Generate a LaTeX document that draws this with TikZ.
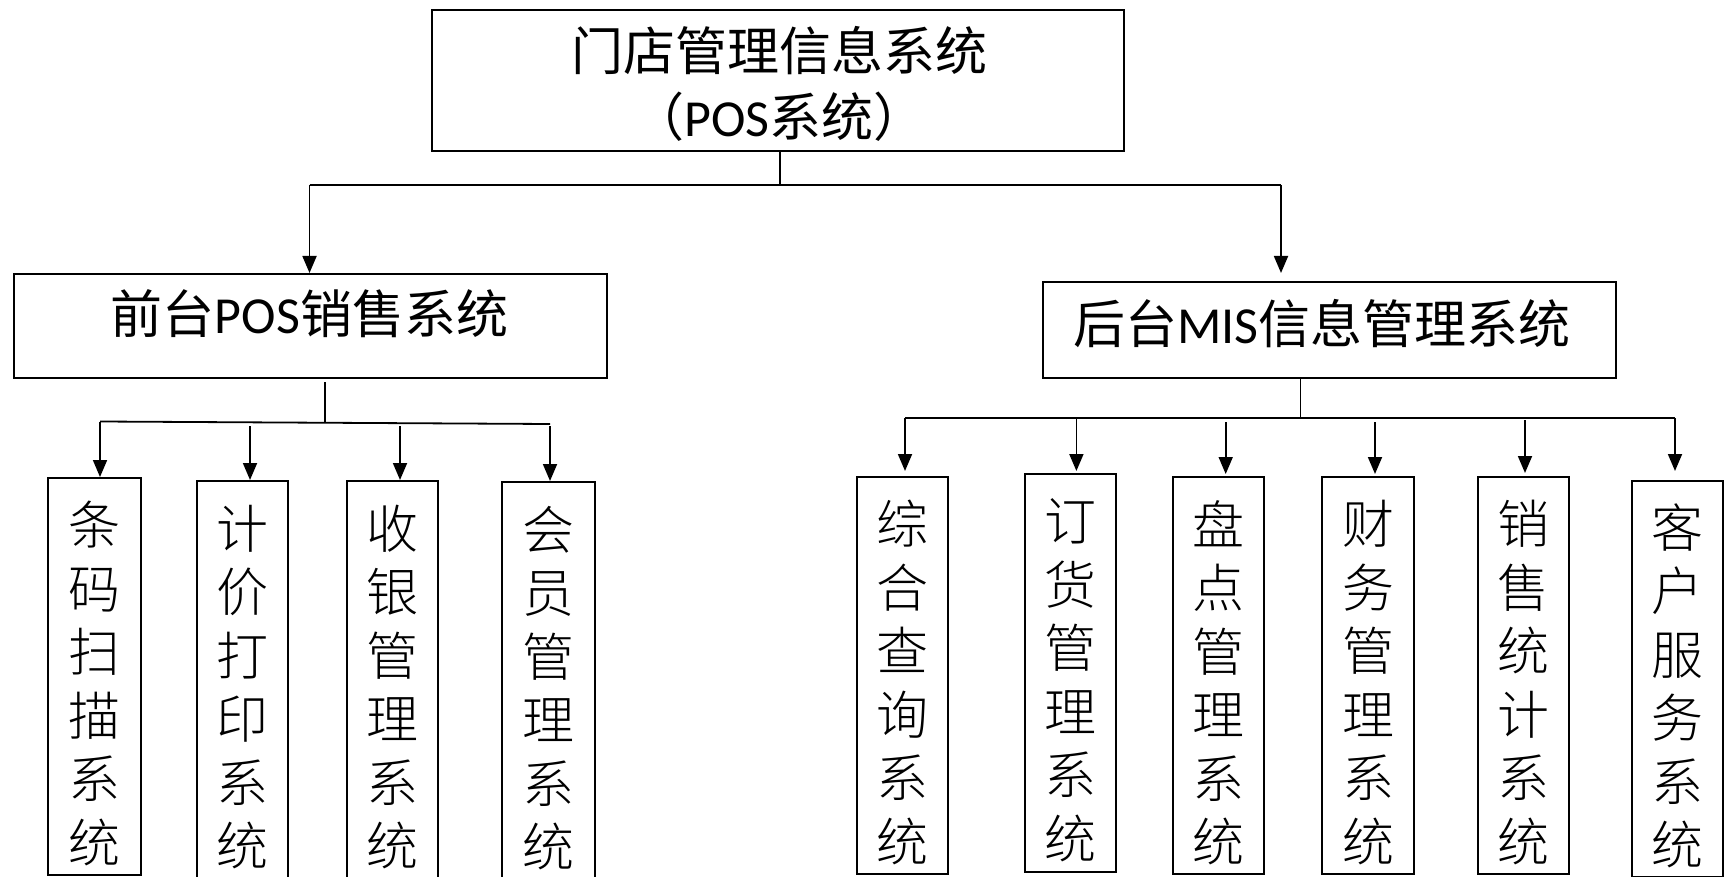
\documentclass[tikz,border=0pt]{standalone}
\usepackage{fontspec}
\usetikzlibrary{arrows.meta}
\newfontfamily\cjkfont{Noto Sans CJK SC}
\newfontfamily\songfont{Noto Sans CJK SC Light}
\newfontfamily\latfont{Carlito}
\begin{document}
\begin{tikzpicture}[x=1pt,y=-1pt,
  box/.style={draw, line width=2pt, inner sep=0pt, anchor=north west},
  htext/.style={inner sep=0pt, font=\cjkfont\fontsize{52}{66}\selectfont, align=center},
  vtext/.style={inner sep=0pt, font=\songfont\fontsize{52}{63.5}\selectfont, align=center},
  ln/.style={line width=1.8pt},
  arr/.style={line width=1.8pt, -{Triangle[length=17pt,width=14pt]}}]
\useasboundingbox (0,0) rectangle (1727,877);
\clip (0,0) rectangle (1727,877);
\fill[white] (0,0) rectangle (1727,877);

% top level
\node[box, minimum width=692pt, minimum height=141pt] (top) at (431,9) {};
\node[htext] (toptext) at (779,84) {门店管理信息系统\\（{\latfont POS}系统）};

\node[box, minimum width=593pt, minimum height=104pt] (front) at (13,273) {};
\node[htext] (fronttext) at (309.5,314) {前台{\latfont POS}销售系统};

\node[box, minimum width=573pt, minimum height=96pt] (back) at (1042,281) {};
\node[htext] (backtext) at (1322,323.5) {后台{\latfont MIS}信息管理系统};

\coordinate (j0) at (780,185);
\coordinate (jl) at (309.5,185);
\coordinate (jr) at (1281,185);
\draw[ln] (top.south -| j0) -- (j0);
\draw[ln] (jl) -- (jr);
\draw[arr] (jl) -- (jl |- front.north);
\draw[arr, shorten >=8pt] (jr) -- (jr |- back.north);

% left children
\node[box, minimum width=93pt, minimum height=397pt] (l1) at (47,477) {};
\node[box, minimum width=91pt, minimum height=398pt] (l2) at (196,480) {};
\node[box, minimum width=91pt, minimum height=398pt] (l3) at (346,480) {};
\node[box, minimum width=93pt, minimum height=398pt] (l4) at (501,481) {};
\node[vtext] (l1t) at ([yshift=-7pt]l1.center) {条\\码\\扫\\描\\系\\统};
\node[vtext] (l2t) at ([yshift=-7pt]l2.center) {计\\价\\打\\印\\系\\统};
\node[vtext] (l3t) at ([yshift=-7pt]l3.center) {收\\银\\管\\理\\系\\统};
\node[vtext] (l4t) at ([yshift=-7pt]l4.center) {会\\员\\管\\理\\系\\统};

\coordinate (k0) at (325,422.5);
\coordinate (ka) at (100,421.5);
\coordinate (kd) at (550,424);
\coordinate (k2) at (250,426);
\coordinate (k3) at (400,426);
\coordinate (k4) at (550,426);
\draw[ln] (front.south -| k0) ++(0,3) -- (k0);
\draw[ln] (ka) -- (kd);
\draw[arr] (ka) -- (ka |- l1.north);
\draw[arr] (k2) -- (k2 |- l2.north);
\draw[arr] (k3) -- (k3 |- l3.north);
\draw[arr] (k4) -- (k4 |- l4.north);

% right children
\node[box, minimum width=91pt, minimum height=397pt] (r1) at (856,476) {};
\node[box, minimum width=91pt, minimum height=398pt] (r2) at (1024,473) {};
\node[box, minimum width=91pt, minimum height=397pt] (r3) at (1172,476) {};
\node[box, minimum width=92pt, minimum height=397pt] (r4) at (1321,476) {};
\node[box, minimum width=91pt, minimum height=397pt] (r5) at (1477,476) {};
\node[box, minimum width=91pt, minimum height=396pt] (r6) at (1631,480) {};
\node[vtext] (r1t) at ([yshift=-7pt]r1.center) {综\\合\\查\\询\\系\\统};
\node[vtext] (r2t) at ([yshift=-7pt]r2.center) {订\\货\\管\\理\\系\\统};
\node[vtext] (r3t) at ([yshift=-7pt]r3.center) {盘\\点\\管\\理\\系\\统};
\node[vtext] (r4t) at ([yshift=-7pt]r4.center) {财\\务\\管\\理\\系\\统};
\node[vtext] (r5t) at ([yshift=-7pt]r5.center) {销\\售\\统\\计\\系\\统};
\node[vtext] (r6t) at ([yshift=-7pt]r6.center) {客\\户\\服\\务\\系\\统};

\coordinate (m0) at (1300.5,418);
\coordinate (m1) at (905,418);
\coordinate (m2) at (1076.4,418);
\coordinate (m3) at (1225.7,422);
\coordinate (m4) at (1375,422);
\coordinate (m5) at (1525,420);
\coordinate (m6) at (1675,418);
\draw[ln] (back.south -| m0) -- (m0);
\draw[ln] (m1) -- (m6);
\draw[arr, shorten >=5pt] (m1) -- (m1 |- r1.north);
\draw[arr, shorten >=2pt] (m2) -- (m2 |- r2.north);
\draw[arr, shorten >=2pt] (m3) -- (m3 |- r3.north);
\draw[arr, shorten >=2pt] (m4) -- (m4 |- r4.north);
\draw[arr, shorten >=3pt] (m5) -- (m5 |- r5.north);
\draw[arr, shorten >=9pt] (m6) -- (m6 |- r6.north);
\end{tikzpicture}
\end{document}
